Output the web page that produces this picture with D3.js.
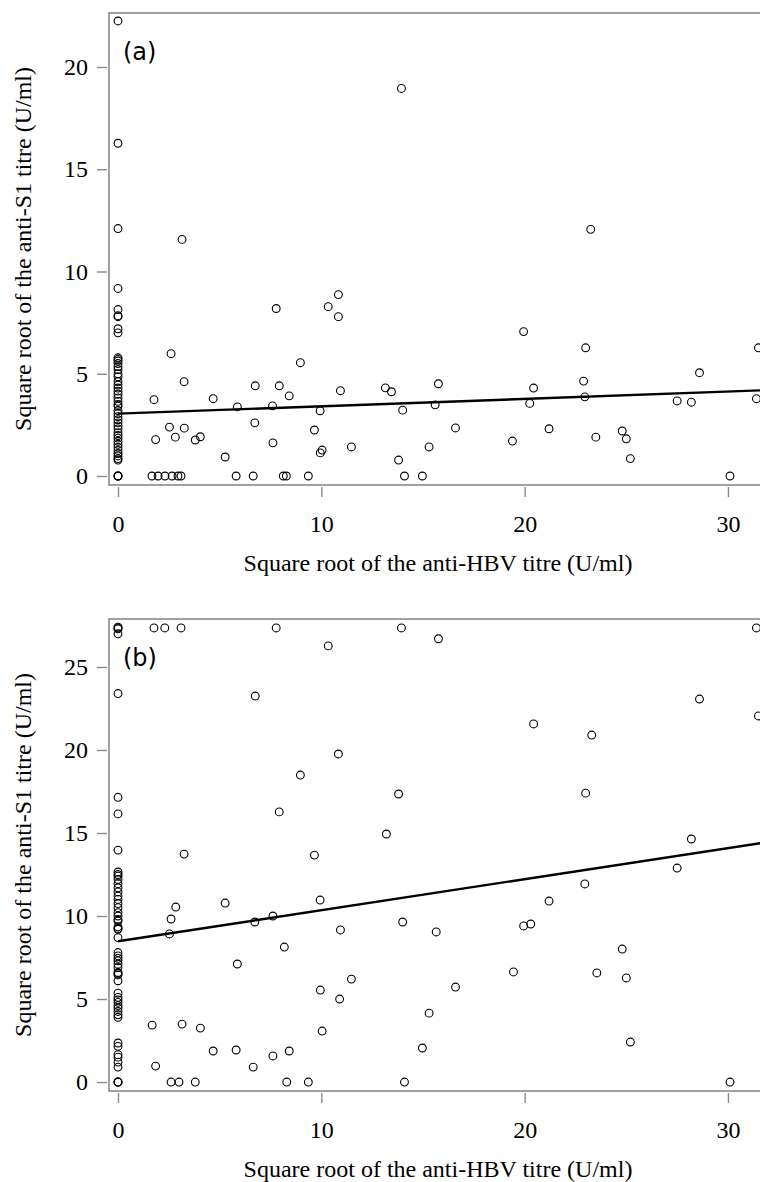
<!DOCTYPE html>
<meta charset="utf-8">
<head>
    <script src="https://d3js.org/d3.v7.min.js"></script>
    <style>
        body { margin: 0; background: #fff; }
        svg { display: block; }
    </style>
</head>
<body>
<div id="my_dataviz"></div>
</body>

<script>

    // ---- panel (a): anti-S1 titre vs anti-HBV titre (square roots)
    var hbvA = [
        // x = 0 column
        0, 0, 0, 0, 0, 0, 0, 0, 0, 0, 0, 0, 0, 0, 0, 0, 0, 0, 0, 0, 0, 0, 0, 0,
        0, 0, 0, 0, 0, 0, 0, 0, 0, 0, 0, 0, 0, 0, 0, 0, 0, 0, 0, 0, 0, 0, 0,
        // the rest
        13.94, 3.15, 23.25, 10.84, 7.78, 10.34, 10.84, 19.95, 23.0, 31.5, 2.61, 8.97,
        3.25, 6.75, 7.93, 22.9, 15.76, 13.15, 13.45, 10.94, 20.44, 28.6, 1.77, 4.68,
        8.42, 22.96, 31.4, 27.5, 28.2, 20.25, 15.6, 5.87, 7.6, 9.94, 14.0, 6.73,
        2.53, 3.26, 16.6, 21.2, 9.66, 24.8, 2.82, 4.05, 3.8, 1.85, 23.5, 25.0,
        19.4, 7.62, 11.48, 15.3, 9.95, 10.04, 5.27, 25.2, 13.8,
        // on the y = 0 line
        1.67, 1.97, 2.31, 2.66, 2.95, 3.1, 5.81, 6.65, 8.13, 8.28, 9.36, 14.09, 14.97, 30.1
    ];
    var s1A = [
        22.25, 16.27, 12.1, 9.17, 8.14, 7.84, 7.79, 7.2, 7.0, 5.78, 5.7, 5.62, 5.5, 5.35,
        5.2, 5.0, 4.85, 4.62, 4.45, 4.3, 4.15, 4.0, 3.82, 3.65, 3.5, 3.42, 3.2, 3.05,
        2.9, 2.75, 2.6, 2.45, 2.3, 2.12, 1.98, 1.85, 1.7, 1.55, 1.4, 1.25, 1.1, 0.98,
        0.85, 0.78, 0, 0, 0,
        18.95, 11.57, 12.06, 8.87, 8.19, 8.28, 7.79, 7.06, 6.27, 6.27, 5.98, 5.54,
        4.61, 4.41, 4.41, 4.64, 4.51, 4.31, 4.12, 4.17, 4.3, 5.05, 3.73, 3.78,
        3.92, 3.87, 3.78, 3.67, 3.61, 3.55, 3.48, 3.38, 3.43, 3.19, 3.22, 2.6,
        2.39, 2.34, 2.35, 2.31, 2.25, 2.2, 1.9, 1.92, 1.76, 1.78, 1.9, 1.82,
        1.71, 1.62, 1.42, 1.42, 1.13, 1.27, 0.93, 0.85, 0.78,
        0, 0, 0, 0, 0, 0, 0, 0, 0, 0, 0, 0, 0, 0
    ];
    var fitA = {intercept: 3.05, slope: 0.036};

    // ---- panel (b)
    var hbvB = [
        // x = 0 column
        0, 0, 0, 0, 0, 0, 0, 0, 0, 0, 0, 0, 0, 0, 0, 0, 0, 0, 0, 0, 0, 0, 0, 0, 0, 0, 0, 0,
        0, 0, 0, 0, 0, 0, 0, 0, 0, 0, 0, 0, 0, 0, 0, 0, 0, 0, 0, 0, 0, 0, 0, 0, 0, 0, 0,
        // the rest
        1.77, 2.3, 3.1, 7.78, 10.34, 6.75, 10.84, 8.97, 7.93, 3.25, 9.66,
        13.94, 15.76, 31.4, 28.6, 31.5, 20.44, 23.3, 13.8, 23.0, 13.2, 28.2, 27.5, 22.96,
        2.84, 5.27, 9.94, 2.61, 2.53, 7.62, 6.73, 10.94, 8.18, 5.87, 11.48, 9.95, 10.9,
        1.68, 3.15, 4.05, 10.04, 4.68, 5.81, 8.42, 7.62, 1.85, 6.65,
        2.61, 3.0, 3.8, 8.3, 9.36,
        21.2, 14.0, 19.95, 20.3, 15.65, 24.8, 19.45, 23.55, 25.0, 16.6, 15.3, 14.97, 25.2,
        14.09, 30.1
    ];
    var s1B = [
        27.4, 27.35, 27.3, 27.0, 23.4, 17.15, 16.15, 13.97, 12.65, 12.5, 12.4, 12.2, 11.95, 11.7,
        11.45, 11.2, 11.0, 10.75, 10.5, 10.2, 10.0, 9.8, 9.7, 9.35, 9.25, 9.2, 8.7, 7.8,
        7.6, 7.45, 7.3, 7.1, 6.9, 6.6, 6.55, 6.45, 6.1, 5.35, 5.1, 4.95, 4.8, 4.6, 4.45, 4.25,
        4.05, 3.9, 2.35, 2.15, 1.65, 1.5, 1.2, 0.9, 0, 0, 0,
        27.35, 27.35, 27.35, 27.35, 26.27, 23.25, 19.76, 18.49, 16.27, 13.73, 13.67,
        27.35, 26.7, 27.35, 23.07, 22.05, 21.57, 20.9, 17.35, 17.4, 14.94, 14.64, 12.89, 11.93,
        10.54, 10.78, 10.96, 9.82, 8.92, 10.0, 9.64, 9.16, 8.13, 7.11, 6.2, 5.54, 5.0,
        3.43, 3.49, 3.25, 3.07, 1.87, 1.93, 1.87, 1.57, 0.96, 0.9,
        0, 0, 0, 0, 0,
        10.9, 9.64, 9.4, 9.52, 9.04, 8.01, 6.63, 6.57, 6.27, 5.72, 4.15, 2.05, 2.41,
        0, 0
    ];
    var fitB = {intercept: 8.48, slope: 0.187};

    var xTicks = [0, 10, 20, 30];
    var yTicksA = [0, 5, 10, 15, 20];
    var yTicksB = [0, 5, 10, 15, 20, 25];

    var xTitle = "Square root of the anti-HBV titre (U/ml)";
    var yTitle = "Square root of the anti-S1 titre (U/ml)";

    var W = 760, H = 1182;
    var frameLeft = 109, frameRight = 767;
    var grey = "#8a8a8a";
    var serif = "'Liberation Serif', 'Times New Roman', serif";

    var svg = d3.select("#my_dataviz")
        .append("svg")
        .attr("width", W)
        .attr("height", H);

    function drawPanel(p) {
        var x = d3.scaleLinear()
            .domain([-0.443, 31.92])
            .range([frameLeft, frameRight]);
        var y = d3.scaleLinear()
            .domain(p.yDomain)
            .range([p.bottom, p.top]);

        var clipId = "clip" + p.label;
        svg.append("clipPath").attr("id", clipId)
            .append("rect")
            .attr("x", frameLeft).attr("y", p.top)
            .attr("width", frameRight - frameLeft).attr("height", p.bottom - p.top);

        // points
        var pts = p.xs.map(function(v, i) { return {x: v, y: p.ys[i]}; });
        svg.append("g")
            .selectAll("circle")
            .data(pts)
            .enter().append("circle")
            .attr("cx", function(d) { return x(d.x); })
            .attr("cy", function(d) { return y(d.y); })
            .attr("r", 3.9)
            .attr("fill", "none")
            .attr("stroke", "#000")
            .attr("stroke-width", 1.1);

        // fitted line, from x = 0 to past the right edge
        svg.append("line")
            .attr("clip-path", "url(#" + clipId + ")")
            .attr("x1", x(0))
            .attr("y1", y(p.fit.intercept))
            .attr("x2", x(32))
            .attr("y2", y(p.fit.intercept + p.fit.slope * 32))
            .attr("stroke", "#000")
            .attr("stroke-width", 2.4);

        // frame
        svg.append("rect")
            .attr("x", frameLeft).attr("y", p.top)
            .attr("width", frameRight - frameLeft).attr("height", p.bottom - p.top)
            .attr("fill", "none")
            .attr("stroke", grey)
            .attr("stroke-width", 1.6);

        // axes, sitting just outside the frame
        var gx = svg.append("g")
            .attr("transform", "translate(0," + (p.bottom + 2) + ")")
            .call(d3.axisBottom(x).tickValues(xTicks).tickSize(10).tickPadding(18));
        var gy = svg.append("g")
            .attr("transform", "translate(" + (frameLeft - 2) + ",0)")
            .call(d3.axisLeft(y).tickValues(p.yTicks).tickSize(10).tickPadding(9));
        [gx, gy].forEach(function(g) {
            g.select(".domain").remove();
            g.selectAll(".tick line").attr("stroke", grey).attr("stroke-width", 1.4);
            g.selectAll(".tick text")
                .attr("fill", "#000")
                .style("font-family", serif)
                .style("font-size", "24px");
        });

        // axis titles
        svg.append("text")
            .attr("x", (frameLeft + frameRight) / 2)
            .attr("y", p.bottom + 86)
            .attr("text-anchor", "middle")
            .style("font-family", serif)
            .style("font-size", "24px")
            .text(xTitle);
        svg.append("text")
            .attr("transform", "translate(31," + ((p.top + p.bottom) / 2) + ") rotate(-90)")
            .attr("text-anchor", "middle")
            .style("font-family", serif)
            .style("font-size", "24px")
            .text(yTitle);

        // panel letter
        svg.append("text")
            .attr("x", 123)
            .attr("y", p.top + 47)
            .style("font-family", "'DejaVu Sans', sans-serif")
            .style("font-size", "24px")
            .text("(" + p.label + ")");
    }

    drawPanel({label: "a", xs: hbvA, ys: s1A, fit: fitA, top: 13, bottom: 485,
        yDomain: [-0.44, 22.64], yTicks: yTicksA});
    drawPanel({label: "b", xs: hbvB, ys: s1B, fit: fitB, top: 619, bottom: 1091,
        yDomain: [-0.54, 27.89], yTicks: yTicksB});

</script>
